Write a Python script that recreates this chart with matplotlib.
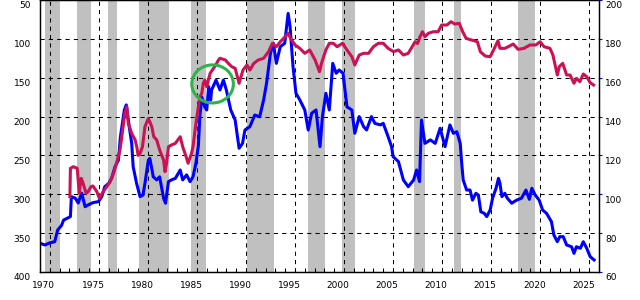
import numpy as np
import matplotlib
matplotlib.use('Agg')
import matplotlib.pyplot as plt
import matplotlib.transforms as mtransforms
from matplotlib.patches import Ellipse

plt.rcParams['font.family'] = ['Liberation Sans Narrow', 'DejaVu Sans']

# blue series, right scale (60-200)
blue_x = [1970.0, 1970.5, 1971.0, 1971.5, 1971.8, 1972.2, 1972.4, 1973.1, 1973.2, 1973.6,
          1973.9, 1974.25, 1974.6, 1974.9, 1975.4, 1975.95, 1976.3, 1976.6, 1977.0, 1977.3,
          1977.65, 1978.0, 1978.2, 1978.6, 1978.8, 1979.1, 1979.35, 1979.5, 1979.85, 1980.2,
          1980.5, 1980.7, 1981.05, 1981.2, 1981.55, 1981.9, 1982.2, 1982.6, 1982.8, 1983.1,
          1983.4, 1983.8, 1984.3, 1984.55, 1984.95, 1985.3, 1985.6, 1985.9, 1986.15, 1986.3,
          1986.5, 1986.8, 1987.0, 1987.2, 1987.4, 1987.5, 1987.95, 1988.35, 1988.7, 1989.0,
          1989.45, 1989.9, 1990.3, 1990.65, 1990.9, 1991.4, 1991.9, 1992.4, 1992.8, 1993.1,
          1993.5, 1993.8, 1994.1, 1994.5, 1994.95, 1995.3, 1995.5, 1995.8, 1996.1, 1996.5,
          1997.0, 1997.35, 1997.7, 1998.15, 1998.55, 1998.8, 1999.15, 1999.5, 1999.85, 2000.2,
          2000.5, 2000.9, 2001.3, 2001.8, 2002.1, 2002.55, 2003.0, 2003.3, 2003.8, 2004.15,
          2004.7, 2005.0, 2005.5, 2005.85, 2006.0, 2006.55, 2007.05, 2007.55, 2008.1, 2008.4,
          2008.7, 2008.9, 2009.25, 2009.8, 2010.3, 2010.8, 2011.3, 2011.8, 2012.15, 2012.5,
          2012.85, 2013.0, 2013.15, 2013.5, 2013.85, 2014.1, 2014.45, 2014.7, 2014.95, 2015.3,
          2015.55, 2015.9, 2016.15, 2016.5, 2016.75, 2016.9, 2017.1, 2017.4, 2017.65, 2018.1,
          2018.6, 2019.1, 2019.55, 2019.9, 2020.15, 2020.5, 2020.9, 2021.25, 2021.65, 2022.15,
          2022.4, 2022.75, 2023.0, 2023.35, 2023.7, 2024.2, 2024.45, 2024.7, 2025.1, 2025.4,
          2025.75, 2026.1, 2026.5]
blue_y = [74.8, 73.9, 75.0, 75.6, 81.6, 84.0, 86.7, 88.5, 98.8, 98.0,
          95.5, 100.6, 93.6, 94.5, 95.7, 96.2, 98.8, 103.9, 105.6, 108.2,
          114.2, 117.6, 129.6, 143.4, 146.0, 134.8, 126.2, 114.2, 105.6, 98.8,
          99.6, 105.6, 117.6, 118.5, 109.0, 107.4, 109.0, 98.0, 95.4, 106.5,
          107.4, 108.2, 112.5, 107.4, 110.0, 106.5, 109.0, 116.0, 125.0, 140.0,
          150.0, 145.0, 143.4, 155.4, 148.5, 153.7, 158.8, 153.7, 158.8, 153.7,
          143.4, 138.2, 123.7, 126.2, 133.1, 134.8, 140.8, 139.9, 148.5, 157.1,
          172.6, 177.7, 167.4, 176.0, 177.7, 193.1, 186.3, 165.7, 152.0, 148.5,
          143.4, 133.1, 141.7, 143.4, 124.5, 140.0, 152.0, 143.4, 167.4, 162.3,
          164.0, 162.3, 145.0, 143.4, 131.4, 140.0, 134.8, 133.1, 140.0, 136.5,
          135.7, 136.5, 129.6, 124.5, 119.4, 116.8, 107.4, 103.9, 107.4, 112.5,
          106.5, 138.2, 126.2, 128.0, 126.2, 134.0, 124.5, 135.7, 131.4, 132.2,
          126.2, 116.0, 107.4, 102.2, 102.2, 97.0, 100.5, 99.6, 91.0, 90.2,
          88.5, 91.9, 98.0, 103.1, 108.2, 105.6, 98.8, 100.5, 98.0, 95.4,
          97.0, 98.0, 102.2, 97.4, 103.1, 99.6, 97.0, 91.9, 90.2, 85.9,
          79.0, 75.6, 78.2, 78.2, 73.9, 73.0, 69.6, 73.0, 72.2, 75.6,
          72.2, 67.9, 66.2]

# red series, left scale (inverted, 50-400)
red_x = [1973.05, 1973.1, 1973.4, 1973.8, 1974.0, 1974.2, 1974.4, 1974.7, 1974.9, 1975.2,
         1975.4, 1975.8, 1976.05, 1976.45, 1976.8, 1977.15, 1977.5, 1977.8, 1978.15, 1978.3,
         1978.65, 1978.85, 1979.0, 1979.35, 1979.7, 1979.9, 1980.0, 1980.2, 1980.45, 1980.7,
         1981.05, 1981.4, 1981.6, 1981.9, 1982.2, 1982.6, 1982.75, 1982.9, 1983.1, 1983.4,
         1983.8, 1984.3, 1984.55, 1984.9, 1985.1, 1985.45, 1985.6, 1985.9, 1986.15, 1986.3,
         1986.5, 1986.65, 1986.8, 1987.0, 1987.35, 1987.85, 1988.2, 1988.35, 1988.9, 1989.2,
         1989.55, 1989.9, 1990.3, 1990.7, 1991.1, 1991.4, 1991.8, 1992.25, 1992.8, 1993.3,
         1993.7, 1994.1, 1994.5, 1995.0, 1995.3, 1995.55, 1996.0, 1996.5, 1997.0, 1997.5,
         1998.05, 1998.5, 1998.7, 1999.15, 1999.5, 1999.9, 2000.3, 2000.85, 2001.3, 2001.8,
         2002.1, 2002.55, 2003.0, 2003.5, 2004.0, 2004.5, 2005.0, 2005.5, 2006.05, 2006.55,
         2007.05, 2007.55, 2008.25, 2008.5, 2008.75, 2009.0, 2009.25, 2009.6, 2010.1, 2010.6,
         2010.95, 2011.5, 2011.9, 2012.3, 2012.75, 2013.1, 2013.45, 2014.0, 2014.6, 2014.9,
         2015.4, 2015.9, 2016.25, 2016.7, 2016.9, 2017.4, 2017.75, 2018.25, 2018.75, 2019.35,
         2019.95, 2020.55, 2021.0, 2021.4, 2022.0, 2022.3, 2022.75, 2022.95, 2023.3, 2023.7,
         2024.05, 2024.45, 2024.7, 2025.05, 2025.4, 2025.75, 2026.1, 2026.45]
red_y = [303.0, 266.6, 264.5, 266.6, 298.8, 279.5, 286.0, 298.8, 296.7, 290.2,
         289.3, 296.7, 305.2, 296.7, 290.2, 283.8, 273.0, 260.1, 243.0, 230.0,
         195.8, 187.3, 208.7, 221.6, 230.0, 240.8, 250.0, 247.3, 238.8, 213.0,
         202.3, 213.0, 225.9, 230.0, 243.0, 255.9, 270.9, 260.1, 238.8, 236.6,
         234.4, 225.9, 238.8, 251.6, 260.1, 247.3, 238.8, 208.7, 187.3, 174.4,
         170.0, 157.2, 152.9, 161.6, 144.3, 135.0, 127.2, 125.0, 127.2, 131.5,
         135.8, 137.9, 157.2, 140.1, 133.6, 140.1, 131.5, 127.2, 125.0, 116.5,
         105.7, 110.1, 103.7, 97.2, 92.9, 99.3, 107.9, 112.2, 118.6, 114.3,
         127.2, 142.3, 131.5, 114.3, 105.7, 105.7, 110.1, 105.7, 114.3, 123.0,
         133.6, 120.8, 118.6, 118.6, 110.1, 105.7, 105.7, 112.2, 116.5, 114.3,
         120.8, 118.6, 103.7, 106.0, 97.2, 90.8, 97.2, 92.9, 90.8, 90.8,
         82.2, 82.2, 77.9, 80.9, 80.0, 90.8, 99.3, 101.5, 103.7, 116.5,
         122.1, 123.0, 114.3, 102.4, 112.2, 112.2, 110.1, 106.6, 113.5, 112.2,
         107.9, 107.9, 103.7, 110.1, 112.2, 120.8, 146.5, 135.8, 131.5, 146.5,
         146.5, 157.2, 150.8, 155.1, 145.2, 148.7, 156.4, 159.4]

# shaded periods
rec_start = [1970.5, 1973.77, 1976.93, 1980.1, 1985.4, 1991.08, 1997.33, 2000.83, 2008.14, 2012.22, 2018.71]
rec_end = [1972.04, 1975.2, 1977.82, 1983.12, 1986.9, 1993.86, 1999.06, 2002.12, 2009.26, 2012.93, 2020.48]

label_years = list(range(1970, 2026, 5))
grid_years = list(range(1971, 2027, 5))

dash = (0, (4, 4))

fig = plt.figure(figsize=(6.4, 3), dpi=100)
ax = fig.add_axes([40/640, 28/300, 559/640, 272/300])
ax2 = ax.twinx()

ax.set_xlim(1970, 2027)
ax.set_ylim(60, 200)
ax2.set_ylim(400, 50)

for s, e in zip(rec_start, rec_end):
    ax.axvspan(s, e, color='#c0c0c0', lw=0, zorder=0)
for g in grid_years:
    ax.axvline(g, color='black', ls=dash, lw=0.75, zorder=0.5)

ax.yaxis.tick_right()
ax.set_yticks(range(60, 201, 20))
ax.grid(axis='y', color='black', ls=dash, lw=0.75)
ax.plot(blue_x, blue_y, color='#0000ff', lw=2.2, zorder=3)

ax.set_xticks([y + 0.4 for y in label_years], [str(y) for y in label_years])
ax.set_xticks(np.arange(1970, 2028), minor=True)
ax.tick_params(axis='x', which='major', length=0, labelsize=6.5, pad=6.5)
ax.tick_params(axis='x', which='minor', direction='in', length=3, width=0.75)
ax.tick_params(axis='y', direction='out', length=2, color='#0000ff', labelsize=6.5, pad=2.5)

ax2.yaxis.tick_left()
ax2.set_yticks(range(50, 401, 50))
ax2.tick_params(axis='y', length=0, labelsize=6.5, pad=6.5)
ax2.plot(red_x, red_y, color='#cc1155', lw=2.2, zorder=3)
ax2.add_patch(Ellipse((1987.6, 158), 4.24, 49, fill=False, edgecolor='#2db34a', lw=2.2, zorder=4))

for a in (ax, ax2):
    for sp in a.spines.values():
        sp.set_linewidth(0.9)
        sp.set_color('black')

# labels sit a little below their grid lines in the original
offset = mtransforms.ScaledTranslation(0, -5/100, fig.dpi_scale_trans)
for lab in ax.get_yticklabels() + ax2.get_yticklabels():
    lab.set_transform(lab.get_transform() + offset)

fig.savefig('out.png', dpi=100)
